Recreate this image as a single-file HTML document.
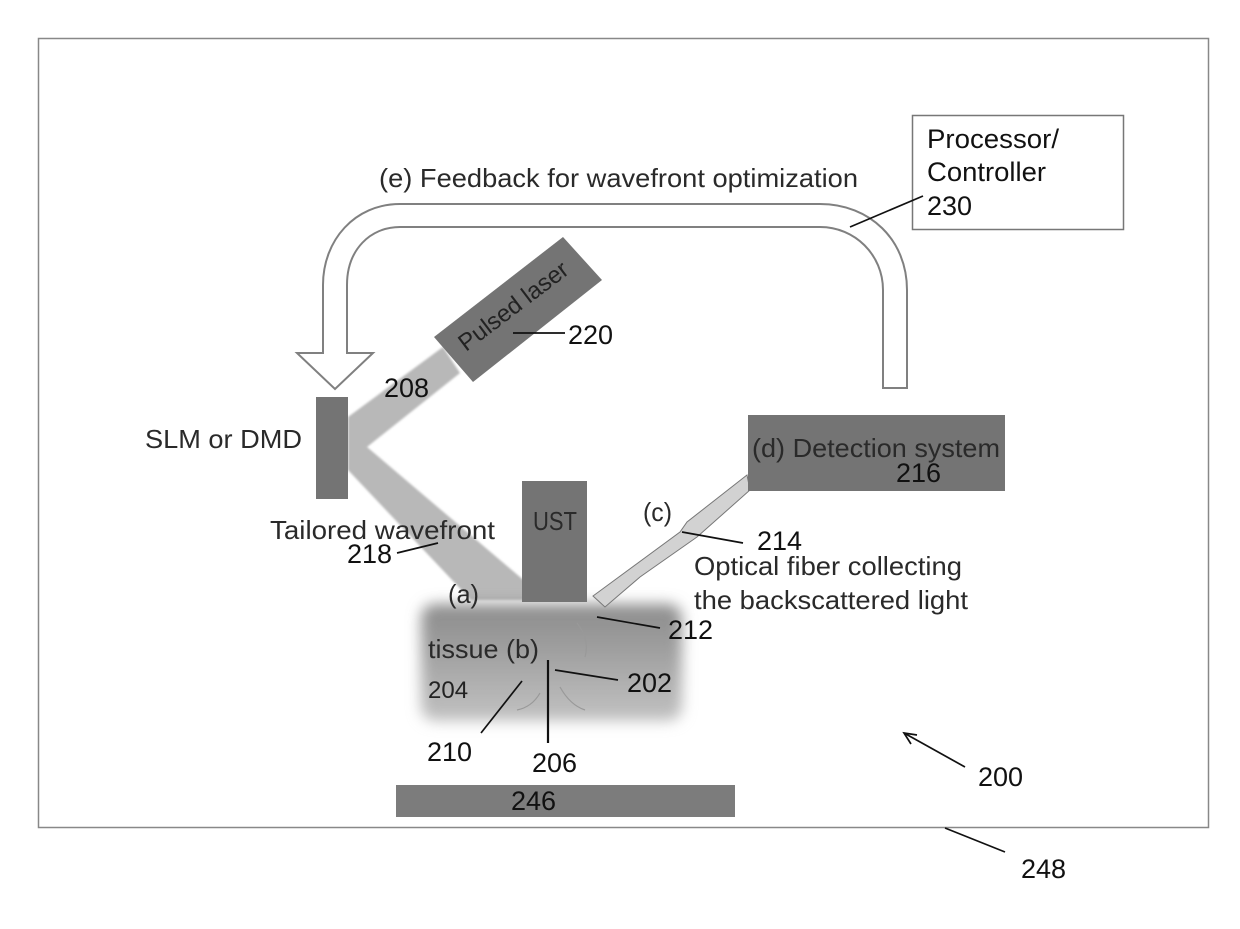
<!DOCTYPE html>
<html><head><meta charset="utf-8"><style>
html,body{margin:0;padding:0;background:#fff}
svg{display:block}
text{font-family:"Liberation Sans",sans-serif;fill:#111}
.n{font-size:27px}
.c{font-size:26px;fill:#2a2a2a}
</style></head><body>
<svg width="1240" height="929" viewBox="0 0 1240 929" xmlns="http://www.w3.org/2000/svg">
<defs>
<filter id="b" x="-20%" y="-30%" width="140%" height="160%"><feGaussianBlur stdDeviation="7"/></filter>
<filter id="b2"><feGaussianBlur stdDeviation="1"/></filter>
<linearGradient id="t" x1="0" y1="0" x2="0" y2="1"><stop offset="0" stop-color="#8c8c8c"/><stop offset="0.3" stop-color="#9a9a9a"/><stop offset="1" stop-color="#c2c2c2"/></linearGradient>
</defs>
<rect width="1240" height="929" fill="#fff"/>
<rect x="38.5" y="38.5" width="1170" height="789" fill="none" stroke="#888" stroke-width="1.5"/>

<!-- beams -->
<polygon points="443,347 460,373 367,447 547,600 471,600 348,470 348,417" fill="#b8b8b8" filter="url(#b2)"/>

<!-- tissue -->
<rect x="421" y="604" width="261" height="117" rx="14" fill="url(#t)" filter="url(#b)"/>
<path d="M540,693 Q532,707 517,710 M560,687 Q570,705 585,710" fill="none" stroke="#999" stroke-width="1.2"/>
<path d="M577,623 Q590,640 585,657" fill="none" stroke="#999" stroke-width="1.2"/>

<!-- feedback arrow -->
<path d="M883,388 L907,388 L907,290 C907,240 870,204 820,204 L400,204 C355,204 323,240 323,285 L323,353 L297,353 L335,389 L373,353 L347,353 L347,285 C347,250 370,227 400,227 L820,227 C855,227 883,255 883,290 Z" fill="#fff" stroke="#808080" stroke-width="2"/>

<!-- solid blocks -->
<polygon points="563,237 602,280 473,382 434,337" fill="#747474"/>
<rect x="316" y="397" width="32" height="102" fill="#747474"/>
<rect x="522" y="481" width="65" height="121" fill="#747474"/>
<polygon points="747,475 687,522 680,532 593,596 605,607 640,577 697,537 750,490" fill="#d2d2d2" stroke="#777" stroke-width="1"/>
<rect x="748" y="415" width="257" height="76" fill="#747474"/>
<rect x="396" y="785" width="339" height="32" fill="#7c7c7c"/>
<rect x="912.5" y="115.5" width="211" height="114" fill="#fff" stroke="#777" stroke-width="1.5"/>

<!-- leaders -->
<g stroke="#111" stroke-width="1.7" fill="none">
<line x1="850" y1="227" x2="923" y2="196"/>
<line x1="513" y1="333" x2="565" y2="333"/>
<line x1="397" y1="553" x2="438" y2="543"/>
<line x1="682" y1="532" x2="743" y2="543"/>
<line x1="597" y1="617" x2="660" y2="628"/>
<line x1="555" y1="670" x2="618" y2="680"/>
<line x1="548" y1="660" x2="548" y2="743" stroke-width="2.2"/>
<line x1="481" y1="733" x2="522" y2="681"/>
<line x1="965" y1="767" x2="904" y2="733"/>
<polyline points="917,735 904,733 911,744"/>
<line x1="1005" y1="852" x2="945" y2="828"/>
</g>

<!-- labels -->
<text class="c" x="379" y="187" textLength="479" lengthAdjust="spacingAndGlyphs">(e) Feedback for wavefront optimization</text>
<text class="n" x="927" y="148" textLength="132" lengthAdjust="spacingAndGlyphs">Processor/</text>
<text class="n" x="927" y="181" textLength="119" lengthAdjust="spacingAndGlyphs">Controller</text>
<text class="n" x="927" y="215">230</text>
<text transform="translate(466,352) rotate(-37.2)" font-size="24" style="fill:#222" textLength="131" lengthAdjust="spacingAndGlyphs">Pulsed laser</text>
<text class="n" x="568" y="344">220</text>
<text class="n" x="384" y="397">208</text>
<text class="c" x="145" y="448" textLength="157" lengthAdjust="spacingAndGlyphs">SLM or DMD</text>
<text class="c" x="270" y="539" textLength="225" lengthAdjust="spacingAndGlyphs">Tailored wavefront</text>
<text class="n" x="347" y="563">218</text>
<text class="c" x="533" y="530" textLength="44" lengthAdjust="spacingAndGlyphs">UST</text>
<text class="c" x="448" y="603" textLength="31" lengthAdjust="spacingAndGlyphs">(a)</text>
<text class="c" x="643" y="521" textLength="29" lengthAdjust="spacingAndGlyphs">(c)</text>
<text class="c" x="752" y="457" textLength="248" lengthAdjust="spacingAndGlyphs">(d) Detection system</text>
<text class="n" x="896" y="482">216</text>
<text class="n" x="757" y="550">214</text>
<text class="c" x="694" y="575" textLength="268" lengthAdjust="spacingAndGlyphs">Optical fiber collecting</text>
<text class="c" x="694" y="609" textLength="274" lengthAdjust="spacingAndGlyphs">the backscattered light</text>
<text class="n" x="668" y="639">212</text>
<text class="c" x="428" y="658" textLength="111" lengthAdjust="spacingAndGlyphs">tissue (b)</text>
<text x="428" y="698" font-size="24" style="fill:#222">204</text>
<text class="n" x="627" y="692">202</text>
<text class="n" x="427" y="761">210</text>
<text class="n" x="532" y="772">206</text>
<text class="n" x="511" y="810">246</text>
<text class="n" x="978" y="786">200</text>
<text class="n" x="1021" y="878">248</text>
</svg>
</body></html>
